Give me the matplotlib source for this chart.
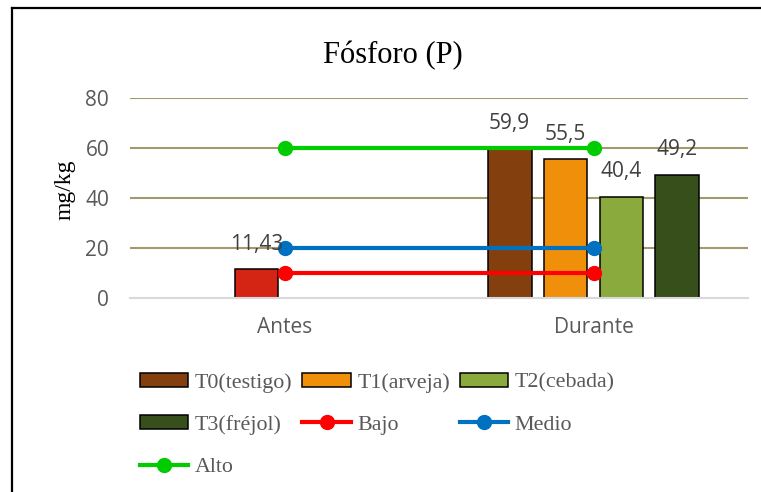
import matplotlib
matplotlib.use("Agg")
import matplotlib.pyplot as plt
import numpy as np
from matplotlib.lines import Line2D
from matplotlib.patches import Patch

# Data
categories = ["Antes", "Durante"]
series_names = ["T0(testigo)", "T1(arveja)", "T2(cebada)", "T3(fréjol)"]
durante_values = [59.9, 55.5, 40.4, 49.2]
antes_value = 11.43
antes_label = "11,43"
durante_labels = ["59,9", "55,5", "40,4", "49,2"]
bar_colors = ["#843F0F", "#F0900A", "#8AAA3E", "#374F1A"]
antes_color = "#D42414"

ref_names = ["Bajo", "Medio", "Alto"]
ref_values = [10, 20, 60]
ref_colors = ["#FF0000", "#0070C0", "#00CC00"]

W, H = 761, 492
fig = plt.figure(figsize=(W / 100, H / 100), dpi=100)

# axes placed in pixel terms
ax = fig.add_axes([130 / W, 1 - 298 / H, 618 / W, 200 / H])

slot = 0.181
bar_w = 0.142
x = np.arange(len(categories))
offsets = (np.arange(4) - 1.5) * slot

# bars for "Durante"
for i, (name, val, col) in enumerate(zip(series_names, durante_values, bar_colors)):
    ax.bar(x[1] + offsets[i], val, width=bar_w, color=col, edgecolor="black",
           linewidth=1.1, zorder=2)
    ax.annotate(durante_labels[i], (x[1] + offsets[i], val), xytext=(0, 18),
                textcoords="offset points", ha="center", va="center",
                fontsize=15, color="#404040", family="Open Sans", zorder=5)

# the single bar for "Antes"
ax.bar(x[0] + offsets[1], antes_value, width=bar_w, color=antes_color,
       edgecolor="black", linewidth=1.1, zorder=2)
ax.annotate(antes_label, (x[0] + offsets[1], antes_value), xytext=(0, 18),
            textcoords="offset points", ha="center", va="center",
            fontsize=15, color="#404040", family="Open Sans", zorder=5)

# reference lines
for name, val, col in zip(ref_names, ref_values, ref_colors):
    ax.plot(x, [val, val], color=col, linewidth=3, marker="o", markersize=10,
            zorder=4)

ax.set_xlim(-0.5, 1.5)
ax.set_ylim(0, 80)
ax.set_yticks([0, 20, 40, 60, 80])
ax.set_xticks(x)
ax.set_xticklabels(categories)
for sp in ["top", "right", "left"]:
    ax.spines[sp].set_visible(False)
ax.spines["bottom"].set_color("#D9D9D9")
ax.spines["bottom"].set_linewidth(1.5)
ax.spines["bottom"].set_zorder(3)
ax.tick_params(axis="both", length=0, labelsize=15, labelcolor="#595959")
ax.tick_params(axis="y", pad=15)
ax.tick_params(axis="x", pad=14)
for lab in ax.get_xticklabels() + ax.get_yticklabels():
    lab.set_family("Open Sans")
ax.yaxis.grid(True, color="#A19A6C", linewidth=1.5, zorder=0)
# hide grid line at 0 so the axis line shows
ax.get_ygridlines()[0].set_visible(False)
ax.set_axisbelow(True)

ax.set_ylabel("mg/kg", family="Liberation Serif", fontsize=17, color="black")
ax.yaxis.set_label_coords(75 / W, 1 - 190 / H, transform=fig.transFigure)

fig.text(393 / W, 1 - 56 / H, "Fósforo (P)", family="Liberation Serif",
         fontsize=22, ha="center", va="center")

# legend, reordered so it reads row by row like the original
bar_handles = [Patch(facecolor=c, edgecolor="black", linewidth=1.1) for c in bar_colors]
line_handles = [Line2D([0], [0], color=c, linewidth=3, marker="o", markersize=10)
                for c in ref_colors]
handles = bar_handles + line_handles
labels = series_names + ref_names
order = [0, 3, 6, 1, 4, 2, 5]
leg = fig.legend([handles[i] for i in order], [labels[i] for i in order],
                 ncol=3, loc="upper left",
                 bbox_to_anchor=(140 / W, 1 - 373 / H),
                 frameon=False, borderpad=0, borderaxespad=0,
                 handlelength=2.2, handleheight=0.6, handletextpad=0.3,
                 columnspacing=0.45, labelspacing=1.02,
                 prop={"family": "Liberation Serif", "size": 15.8})
for t in leg.get_texts():
    t.set_color("#595959")

# outer border of the chart area
fig.add_artist(Line2D([12 / W, 12 / W], [0, 1 - 8 / H], color="black",
                      linewidth=1.6, transform=fig.transFigure))
fig.add_artist(Line2D([12 / W, 1], [1 - 8 / H, 1 - 8 / H], color="black",
                      linewidth=1.6, transform=fig.transFigure))

fig.savefig("out.png", dpi=100)
